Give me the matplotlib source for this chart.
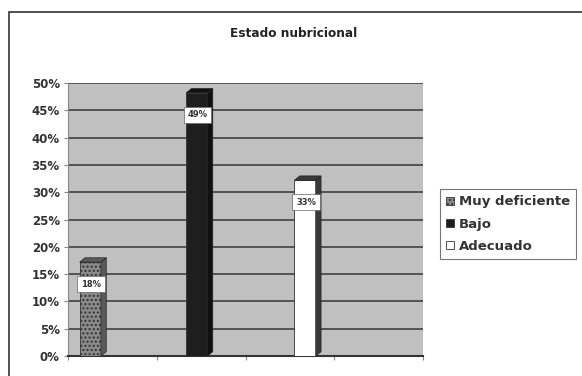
import matplotlib.pyplot as plt
from matplotlib.patches import Polygon, Rectangle

# Datos del gráfico
categorias = ['Muy deficiente', 'Bajo', 'Adecuado']
valores = [18, 49, 33]
etiquetas = ['18%', '49%', '33%']
posiciones = [0.25, 1.45, 2.67]
colores = ['#8a8a8a', '#1e1e1e', '#ffffff']
lados = ['#5a5a5a', '#111111', '#3a3a3a']
yticks = list(range(0, 55, 5))

fig = plt.figure(figsize=(5.82, 3.76), dpi=100)
ax = fig.add_axes([0.117, 0.053, 0.61, 0.726])
ax.set_facecolor('#c0c0c0')

ancho = 0.24
dx, dy = 0.06, 0.8  # profundidad 3D

ax.set_xlim(0, 4)
ax.set_ylim(0, 50)
for y in yticks:
    ax.axhline(y, color='#4a4a4a', lw=1.3, zorder=1)

for x, v, c, s, lab, nom in zip(posiciones, valores, colores, lados, etiquetas, categorias):
    h = v - dy
    ax.add_patch(Rectangle((x - ancho / 2, 0), ancho, h, facecolor=c,
                           edgecolor='#333333', lw=0.6, zorder=3, label=nom,
                           hatch='....' if nom == 'Muy deficiente' else None))
    # cara lateral
    ax.add_patch(Polygon([(x + ancho / 2, 0), (x + ancho / 2 + dx, dy),
                          (x + ancho / 2 + dx, v), (x + ancho / 2, h)],
                         closed=True, facecolor=s, edgecolor='#222222', lw=0.5, zorder=3))
    # tapa superior
    ax.add_patch(Polygon([(x - ancho / 2, h), (x - ancho / 2 + dx, v),
                          (x + ancho / 2 + dx, v), (x + ancho / 2, h)],
                         closed=True, facecolor=s, edgecolor='#222222', lw=0.5, zorder=3))
    ax.text(x + 0.01, v - 4.8, lab, ha='center', va='center', fontsize=6,
            fontweight='bold', color='#333333', zorder=5,
            bbox=dict(boxstyle='square,pad=0.45', facecolor='white',
                      edgecolor='#666666', lw=0.5))

ax.set_yticks(yticks)
ax.set_yticklabels([f'{t}%' for t in yticks], fontsize=8.5, fontweight='bold', color='#333333')
ax.set_xticks([0, 1, 2, 3, 4])
ax.set_xticklabels([])
ax.tick_params(axis='y', length=3, width=0.8, color='#888888', pad=3)
ax.tick_params(axis='x', length=3, width=0.8, color='#888888')
for sp in ['top', 'right']:
    ax.spines[sp].set_visible(False)
ax.spines['left'].set_color('#888888')
ax.spines['bottom'].set_color('#333333')
ax.spines['bottom'].set_linewidth(1.5)

fig.text(0.505, 0.912, 'Estado nubricional', ha='center', va='center',
         fontsize=8.75, fontweight='bold', color='#222222')

# marco exterior
fig.add_artist(Rectangle((9 / 582, -0.01), 1.0, (376 - 12) / 376 + 0.01,
                         transform=fig.transFigure, fill=False,
                         edgecolor='#333333', lw=1.2))

handles = [Rectangle((0, 0), 1, 1, facecolor=c, edgecolor='#333333', lw=0.6,
                     hatch='....' if n == 'Muy deficiente' else None)
           for c, n in zip(colores, categorias)]
leg = fig.legend(handles, categorias, loc='center left', bbox_to_anchor=(0.745, 0.404),
                 prop={'weight': 'bold', 'size': 9.5}, handlelength=0.6,
                 handleheight=0.6, handletextpad=0.35, labelspacing=0.7,
                 frameon=True, fancybox=False, borderpad=0.45)
leg.get_frame().set_edgecolor('#555555')
leg.get_frame().set_linewidth(0.8)
for t in leg.get_texts():
    t.set_color('#333333')

fig.savefig('out.png', dpi=100)
